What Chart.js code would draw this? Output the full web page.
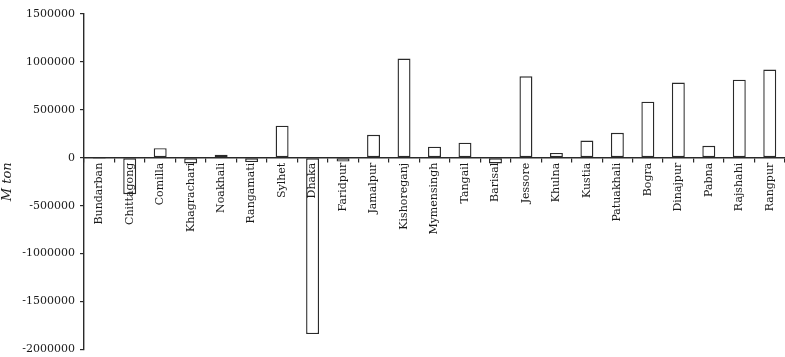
<!DOCTYPE html>
<html>
<head>
<meta charset="utf-8">
<title>District balance</title>
<script src="https://cdn.jsdelivr.net/npm/chart.js@4.4.1/dist/chart.umd.min.js"></script>
<style>
    html, body { margin: 0; padding: 0; background: #fff; overflow: hidden; }
    /* a few px taller than the window so the axis runs down to the bottom edge */
    #wrap { width: 785px; height: 361px; }
</style>
</head>
<body>
<div id="wrap"><canvas id="balanceChart"></canvas></div>
<script>
// Districts along the x axis
const districts = ['Bundarban', 'Chittagong', 'Comilla', 'Khagrachari', 'Noakhali', 'Rangamati',
    'Sylhet', 'Dhaka', 'Faridpur', 'Jamalpur', 'Kishoreganj', 'Mymensingh', 'Tangail', 'Barisal',
    'Jessore', 'Khulna', 'Kustia', 'Patuakhali', 'Bogra', 'Dinajpur', 'Pabna', 'Rajshahi', 'Rangpur'];

// Net balance per district (M ton)
const balance = [-10000, -380000, 100000, -60000, 30000, -45000,
    335000, -1840000, -40000, 240000, 1035000, 115000, 157000, -60000,
    850000, 50000, 180000, 260000, 585000, 785000, 125000, 815000, 920000];

// Y axis ticks
const yMin = -2000000;
const yMax = 1500000;
const yStep = 500000;

const ink = '#2a2a2a';
const serif = "'DejaVu Serif', 'Liberation Serif', serif";

function loadBalanceChart() {
    const ctx = document.getElementById('balanceChart').getContext('2d');
    new Chart(ctx, {
        type: 'bar',
        data: {
            labels: districts,
            datasets: [{
                data: balance,
                backgroundColor: '#ffffff',
                borderColor: ink,
                borderWidth: 1.4,
                borderSkipped: false,
                barPercentage: 0.85,
                categoryPercentage: 0.5
            }]
        },
        options: {
            responsive: true,
            maintainAspectRatio: false,
            animation: false,
            layout: { padding: { top: 14, bottom: 0, left: 0, right: 0 } },
            plugins: { legend: { display: false }, tooltip: { enabled: false } },
            scales: {
                x: {
                    position: { y: 0 },
                    border: { display: true, color: ink, width: 1.4, z: 1 },
                    grid: { drawOnChartArea: false, drawTicks: true, tickLength: 4, color: ink, lineWidth: 1.2 },
                    ticks: {
                        z: 1, // district names sit on top of the bars
                        autoSkip: false,
                        minRotation: 90,
                        maxRotation: 90,
                        padding: 1,
                        color: '#1a1a1a',
                        font: { family: serif, size: 11 }
                    }
                },
                y: {
                    min: yMin,
                    max: yMax,
                    afterFit: scale => { scale.width = 84; },
                    border: { display: true, color: ink, width: 1.4 },
                    grid: { drawOnChartArea: false, drawTicks: true, tickLength: 4, color: ink, lineWidth: 1.2 },
                    ticks: {
                        stepSize: yStep,
                        padding: 5,
                        color: '#1a1a1a',
                        font: { family: serif, size: 11 },
                        callback: value => String(value)
                    },
                    title: {
                        display: true,
                        text: 'M ton',
                        color: '#1a1a1a',
                        padding: { top: 0, bottom: 0 },
                        font: { family: serif, size: 13, style: 'italic' }
                    }
                }
            }
        }
    });
}

window.onload = function() {
    loadBalanceChart();
};
</script>
</body>
</html>
